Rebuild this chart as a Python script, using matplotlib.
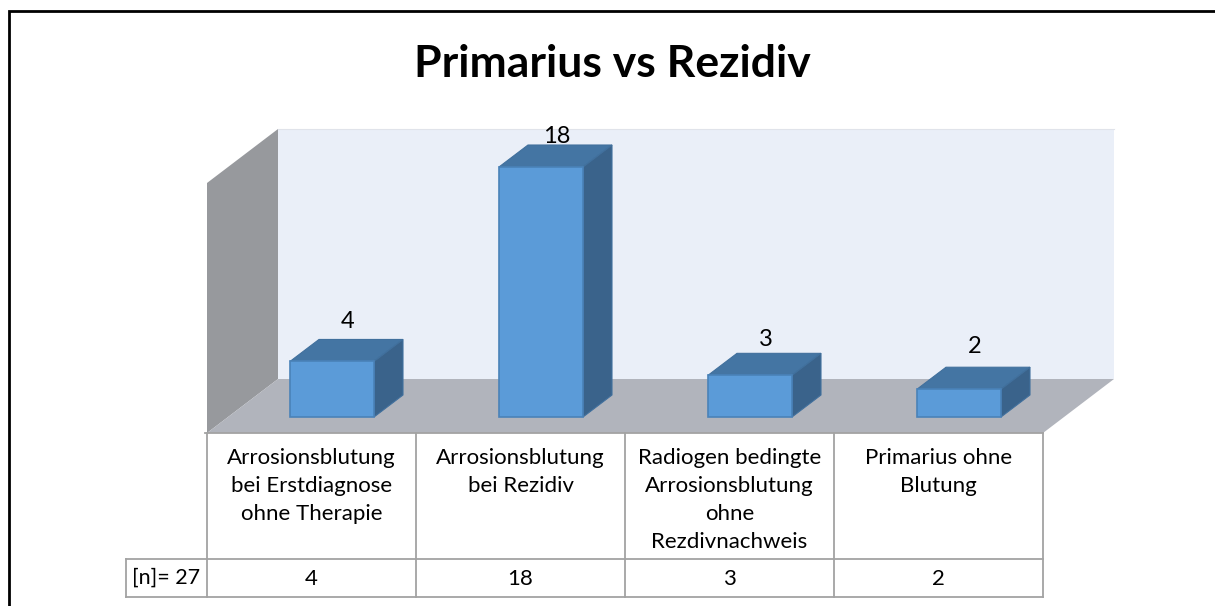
import matplotlib
matplotlib.use('Agg')
import matplotlib.pyplot as plt
from matplotlib.patches import Polygon

# data
categories = ['Arrosionsblutung\nbei Erstdiagnose\nohne Therapie',
              'Arrosionsblutung\nbei Rezidiv',
              'Radiogen bedingte\nArrosionsblutung\nohne\nRezdivnachweis',
              'Primarius ohne\nBlutung']
values = [4, 18, 3, 2]
table_head = '[n]= 27'
title = 'Primarius vs Rezidiv'

W, H = 1215, 606
plt.rcParams['font.family'] = ['Lato', 'DejaVu Sans']

fig = plt.figure(figsize=(W / 100, H / 100), dpi=100, facecolor='white')

# background layer in pixel units: frame, walls, floor, table
bg = fig.add_axes([0, 0, 1, 1])
bg.set_xlim(0, W)
bg.set_ylim(H, 0)
bg.axis('off')

bg.plot([9, 9, W], [H, 11, 11], color='black', lw=2.0, solid_joinstyle='miter')
bg.text(612, 64, title, ha='center', va='center', fontsize=32, fontweight='bold', color='black')

bg.add_patch(Polygon([(278, 129), (1114, 129), (1114, 379), (278, 379)], fc='#EAEFF8', ec='none'))
bg.plot([278, 1114], [129, 129], color='#E0E3EA', lw=0.8)
bg.add_patch(Polygon([(207, 183), (278, 129), (278, 379), (207, 433)], fc='#97999D', ec='none'))
bg.add_patch(Polygon([(207, 433), (278, 379), (1114, 379), (1043, 433)], fc='#B1B4BC', ec='none'))

# table under the chart
line = dict(color='#A3A3A3', lw=1.3, solid_capstyle='projecting')
col_w = (1043 - 207) / len(values)
for i in range(len(values) + 1):
    bg.plot([207 + i * col_w] * 2, [433, 597], **line)
bg.plot([205, 1043], [433, 433], **line)
bg.plot([126, 1043], [559, 559], **line)
bg.plot([126, 1043], [597, 597], **line)
bg.plot([126, 126], [559, 597], **line)
bg.text(166, 578, table_head, ha='center', va='center', fontsize=15.5)
for i in range(len(values)):
    cx = 207 + (i + 0.5) * col_w
    bg.text(cx, 448, categories[i], ha='center', va='top', fontsize=16, linespacing=1.5)
    bg.text(cx, 579, str(values[i]), ha='center', va='center', fontsize=16)

# bar layer in data units, 0 sits on the bar foot and 18 on the top of the tall bar
px_per_unit = 250 / 18
ax = fig.add_axes([207 / W, (H - 433) / H, col_w * 4 / W, (433 - 129) / H])
ax.patch.set_alpha(0)
ax.axis('off')
ax.set_xlim(-0.5, 3.5)
ax.set_ylim(-16 / px_per_unit, 288 / px_per_unit)

x_shift = 20.5 / col_w
bar_w = 84 / col_w
dx = 29 / col_w
dy = 22 / px_per_unit
xs = [i + x_shift for i in range(len(values))]
gaps = [18, 9, 14, 21]

ax.bar(xs, values, width=bar_w, color='#5B9BD8', edgecolor='#4A82B8', linewidth=1.2, zorder=3)
for x, v, gap in zip(xs, values, gaps):
    l, r = x - bar_w / 2, x + bar_w / 2
    ax.add_patch(Polygon([(l, v), (r, v), (r + dx, v + dy), (l + dx, v + dy)],
                         fc='#4475A3', ec='#41709D', lw=0.8, clip_on=False, zorder=2))
    ax.add_patch(Polygon([(r, 0), (r + dx, dy), (r + dx, v + dy), (r, v)],
                         fc='#3A638B', ec='#41709D', lw=0.8, clip_on=False, zorder=2))
    ax.text(x + dx / 2 + 1.5 / col_w, v + dy + gap / px_per_unit, str(v), ha='center', va='center',
            fontsize=17, clip_on=False, zorder=4)

fig.savefig('out.png', dpi=100)
